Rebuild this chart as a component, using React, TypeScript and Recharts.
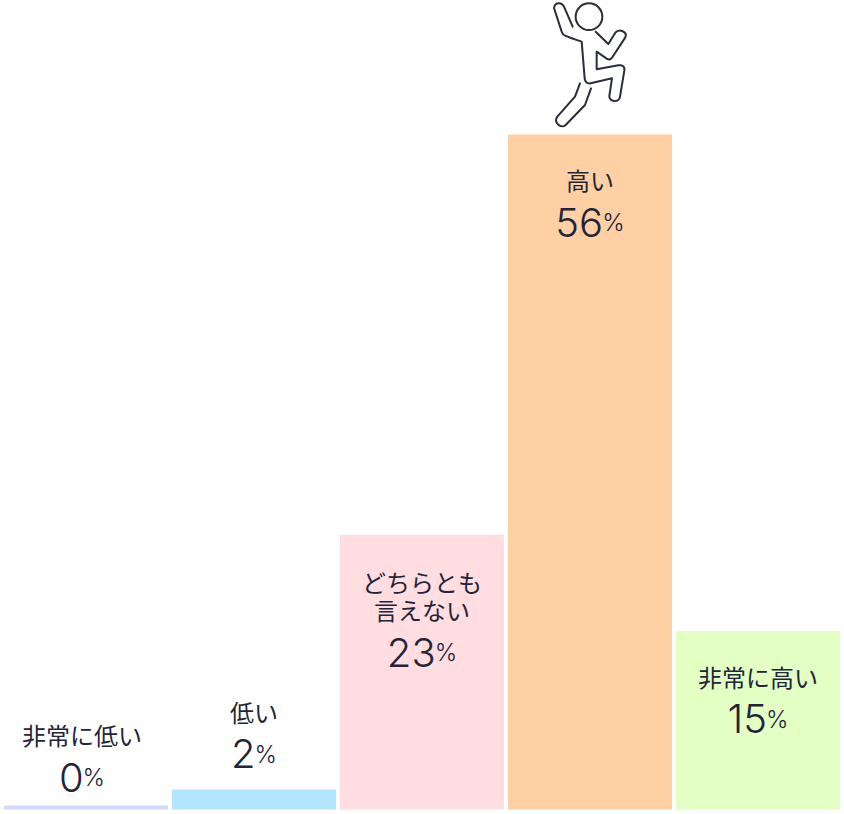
import { BarChart, Bar, Cell, XAxis, YAxis, LabelList } from "recharts";

const categories = ["非常に低い", "低い", "どちらとも\n言えない", "高い", "非常に高い"];
const barValues = [0.33, 1.66, 22.8, 56, 14.8];
const shownPercents = ["0", "2", "23", "56", "15"];
const barColors = ["#d2d8fb", "#b3e5ff", "#ffdde0", "#ffd0a3", "#e3ffc4"];

const chartData = categories.map((name, i) => ({
  name,
  value: barValues[i],
  percent: shownPercents[i],
}));

const INK = "#22243a";

const BarText = (props: any) => {
  const { x, y, width, index } = props;
  const cx = x + width / 2 - (index === 0 ? 4 : 0);
  const lines = categories[index].split("\n");
  // short bars carry their text above, the others inside
  let top = y + 45;
  if (index === 0) top = y - 71;
  if (index === 1) top = y - 78;
  if (lines.length > 1) top = y + 47;
  const numberY = top + (lines.length - 1) * 28 + 42.5;
  return (
    <g>
      {lines.map((line: string, i: number) => (
        <text
          key={line}
          x={cx}
          y={top + i * 28}
          textAnchor="middle"
          dominantBaseline="central"
          fill={INK}
          fontFamily="'Noto Sans CJK JP', sans-serif"
          fontWeight={400}
          fontSize={24}
        >
          {line}
        </text>
      ))}
      <text
        x={cx}
        y={numberY}
        textAnchor="middle"
        dominantBaseline="central"
        fill={INK}
        fontFamily="Inter, sans-serif"
        fontWeight={300}
        fontSize={40}
      >
        {shownPercents[index]}
        <tspan fontSize={24} dx={-1}>%</tspan>
      </text>
    </g>
  );
};

// jumping figure above the tallest bar
const Jumper = () => (
  <svg
    width={120}
    height={140}
    viewBox="0 0 360 420"
    style={{ position: "absolute", left: 530, top: 0 }}
    fill="none"
    stroke="#2a2d3a"
    strokeWidth={6}
    strokeLinecap="round"
    strokeLinejoin="round"
  >
    <circle cx={177} cy={50} r={40} />
    <path d="M128 80 L103 22 C97 6 75 4 72 24 L95 95 C98 106 104 108 155 125 L164 235 C165 247 172 252 182 250 L246 235 L238 288 C236 306 268 310 270 290 L283 212 C285 198 276 194 265 196 L200 208 L200 155 L230 176 C238 181 243 178 248 170 L286 112 C293 96 268 84 256 98 L235 132 L197 95" />
    <path d="M150 250 L135 290 L82 350 C70 366 92 388 107 375 L165 315 L183 265" />
  </svg>
);

export default function App() {
  return (
    <div style={{ position: "absolute", left: 0, top: 0, width: 844, height: 814, background: "#fff" }}>
      <BarChart
        width={844}
        height={814}
        data={chartData}
        margin={{ top: 134.5, right: 2, bottom: 4.5, left: 2 }}
        barCategoryGap={2}
      >
        <XAxis dataKey="name" hide />
        <YAxis hide domain={[0, 56]} />
        <Bar dataKey="value" isAnimationActive={false}>
          {chartData.map((d, i) => (
            <Cell key={d.name} fill={barColors[i]} />
          ))}
          <LabelList dataKey="percent" content={<BarText />} />
        </Bar>
      </BarChart>
      <Jumper />
    </div>
  );
}
